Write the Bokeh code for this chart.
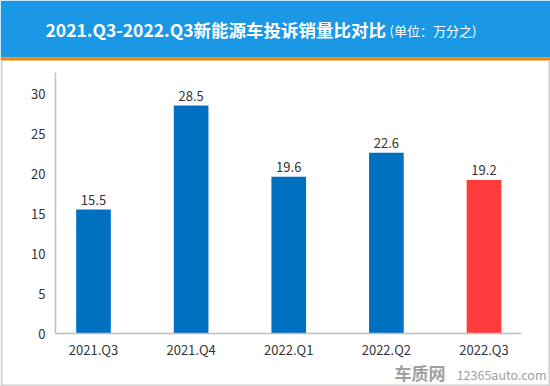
from bokeh.plotting import figure
from bokeh.models import ColumnDataSource, FixedTicker, Range1d, LinearAxis
from bokeh.core.properties import value
from bokeh.embed import file_html
from bokeh.resources import INLINE

quarters = ["2021.Q3", "2021.Q4", "2022.Q1", "2022.Q2", "2022.Q3"]
ratios = [15.5, 28.5, 19.6, 22.6, 19.2]
bar_colors = ["#0070C0", "#0070C0", "#0070C0", "#0070C0", "#FF3B3B"]
y_ticks = [0, 5, 10, 15, 20, 25, 30]
title_main = "2021.Q3-2022.Q3新能源车投诉销量比对比"
title_unit = "(单位：万分之)"
wm_logo = "车质网"
wm_site = "12365auto.com"

FONT = "Noto Sans CJK SC"
W, H = 550, 386

# pixel layout of the chart area (canvas coords)
X0_PX, XSTEP_PX = 93.0, 97.625      # centre of first bar, spacing
Y0_PX, YUNIT_PX = 333.0, 8.0        # baseline, pixels per unit
AX_LEFT_PX, AX_RIGHT_PX, AX_TOP_PX = 55.0, 521.0, 72.0

def xd(px):
    return (px - X0_PX) / XSTEP_PX

def yd(py):
    return (Y0_PX - py) / YUNIT_PX

p = figure(width=W, height=H, x_range=Range1d(xd(0), xd(W)), y_range=Range1d(yd(H), yd(0)),
           output_backend="svg", toolbar_location=None, min_border=0,
           x_axis_location=None, y_axis_location=None)
p.outline_line_color = None
p.xgrid.visible = False
p.ygrid.visible = False
p.background_fill_color = "white"
p.border_fill_color = "white"

# pixel-space ranges for decorations
p.extra_x_ranges = {"px": Range1d(0, W)}
p.extra_y_ranges = {"px": Range1d(H, 0)}

# header band
p.quad(left=0, right=W, top=0, bottom=57, fill_color="#1A98E6", line_color=None,
       x_range_name="px", y_range_name="px")
p.quad(left=0, right=W, top=57, bottom=60, fill_color="#F08300", line_color=None,
       x_range_name="px", y_range_name="px")
p.text(x=[45], y=[29], text=[title_main], text_font=value(FONT), text_font_size="17.5px",
       text_font_style="bold", text_color="white", text_baseline="middle", text_align="left",
       x_range_name="px", y_range_name="px")
p.text(x=[389], y=[30], text=[title_unit], text_font=value(FONT), text_font_size="13px",
       text_color="white", text_baseline="middle", text_align="left",
       x_range_name="px", y_range_name="px")

# panel border
p.segment(x0=[1, 549, 1], y0=[60, 60, 385], x1=[1, 549, 549], y1=[386, 386, 385],
          line_color="#CFCFCF", line_width=2, x_range_name="px", y_range_name="px")

# bars and value labels
idx = list(range(len(quarters)))
src = ColumnDataSource(dict(x=idx, y=ratios, c=bar_colors,
                            lbl=[f"{v:.1f}" for v in ratios]))
p.vbar(x="x", top="y", width=0.355, bottom=0, fill_color="c", line_color=None, source=src)
p.text(x="x", y="y", text="lbl", source=src, text_font=value(FONT), text_font_size="13px",
       text_color="#333333", text_align="center", text_baseline="middle", y_offset=-10)

# axes fixed inside the full-canvas frame
xaxis = LinearAxis(fixed_location=0, bounds=(xd(AX_LEFT_PX), xd(AX_RIGHT_PX)))
yaxis = LinearAxis(fixed_location=xd(AX_LEFT_PX), bounds=(0, yd(AX_TOP_PX)))
for ax in (xaxis, yaxis):
    ax.axis_line_color = "#BFBFBF"
    ax.axis_line_width = 1.5
    ax.major_tick_line_color = None
    ax.minor_tick_line_color = None
    ax.major_label_text_font = FONT
    ax.major_label_text_font_size = "13px"
    ax.major_label_text_color = "#333333"
xaxis.ticker = FixedTicker(ticks=idx)
xaxis.major_label_overrides = {i: q for i, q in zip(idx, quarters)}
xaxis.major_label_standoff = 0
yaxis.ticker = FixedTicker(ticks=y_ticks)
yaxis.major_label_standoff = 4
p.add_layout(xaxis, "below")
p.add_layout(yaxis, "left")

# watermark
p.text(x=[394], y=[384], text=[wm_logo], text_font=value(FONT), text_font_size="17px",
       text_font_style="bold", text_color="#A0A0A0", text_baseline="bottom", text_align="left",
       x_range_name="px", y_range_name="px")
p.text(x=[546], y=[383], text=[wm_site], text_font=value(FONT), text_font_size="12.5px",
       text_color="#A0A0A0", text_baseline="bottom", text_align="right",
       x_range_name="px", y_range_name="px")

open("out.html", "w").write(file_html(p, INLINE))
